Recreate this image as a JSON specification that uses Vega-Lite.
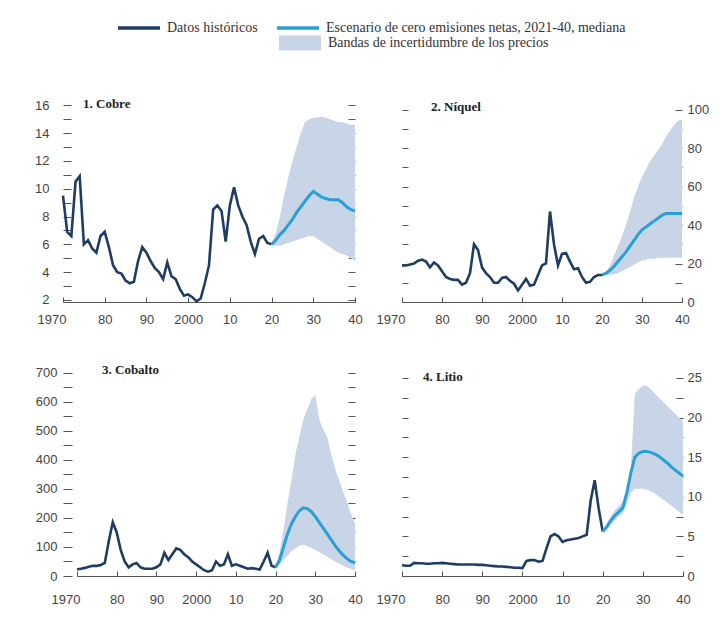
{
  "$schema": "https://vega.github.io/schema/vega-lite/v6.json",
  "padding": {"left": 34, "top": 5, "right": 5, "bottom": 5},
  "background": "white",
  "config": {
    "view": {"stroke": null},
    "axis": {"labelFont": "Liberation Sans", "labelFontSize": 13, "labelColor": "#444", "tickColor": "#555", "domainColor": "#555", "grid": false, "title": null, "labelOverlap": false},
    "title": {"font": "Liberation Serif", "fontSize": 13, "fontWeight": "bold", "color": "#222", "anchor": "start", "frame": "group"}
  },
  "datasets": {
    "cu_h": [
      {"t":1970,"v":9.5},{"t":1971,"v":6.9},{"t":1972,"v":6.6},{"t":1973,"v":10.5},{"t":1974,"v":10.9},{"t":1975,"v":6.0},{"t":1976,"v":6.3},{"t":1977,"v":5.7},{"t":1978,"v":5.4},{"t":1979,"v":6.6},
      {"t":1980,"v":6.9},{"t":1981,"v":5.8},{"t":1982,"v":4.5},{"t":1983,"v":4.0},{"t":1984,"v":3.9},{"t":1985,"v":3.4},{"t":1986,"v":3.2},{"t":1987,"v":3.3},{"t":1988,"v":4.8},{"t":1989,"v":5.8},
      {"t":1990,"v":5.4},{"t":1991,"v":4.8},{"t":1992,"v":4.3},{"t":1993,"v":4.0},{"t":1994,"v":3.5},{"t":1995,"v":4.7},{"t":1996,"v":3.7},{"t":1997,"v":3.5},{"t":1998,"v":2.8},{"t":1999,"v":2.3},
      {"t":2000,"v":2.4},{"t":2001,"v":2.2},{"t":2002,"v":1.9},{"t":2003,"v":2.1},{"t":2004,"v":3.2},{"t":2005,"v":4.5},{"t":2006,"v":8.5},{"t":2007,"v":8.8},{"t":2008,"v":8.4},{"t":2009,"v":6.2},
      {"t":2010,"v":8.8},{"t":2011,"v":10.1},{"t":2012,"v":8.8},{"t":2013,"v":8.0},{"t":2014,"v":7.4},{"t":2015,"v":6.2},{"t":2016,"v":5.3},{"t":2017,"v":6.4},{"t":2018,"v":6.6},{"t":2019,"v":6.1},{"t":2020,"v":6.0}
    ],
    "cu_m": [
      {"t":2020,"v":6.0},{"t":2021,"v":6.3},{"t":2022,"v":6.7},{"t":2023,"v":7.0},{"t":2024,"v":7.4},{"t":2025,"v":7.8},{"t":2026,"v":8.3},{"t":2027,"v":8.7},{"t":2028,"v":9.1},{"t":2029,"v":9.5},
      {"t":2030,"v":9.8},{"t":2031,"v":9.6},{"t":2032,"v":9.4},{"t":2033,"v":9.3},{"t":2034,"v":9.2},{"t":2035,"v":9.2},{"t":2036,"v":9.2},{"t":2037,"v":9.0},{"t":2038,"v":8.7},{"t":2039,"v":8.5},{"t":2040,"v":8.4}
    ],
    "cu_b": [
      {"t":2020,"lo":6.0,"hi":6.0},{"t":2021,"lo":5.9,"hi":6.8},{"t":2022,"lo":5.9,"hi":8.0},{"t":2023,"lo":6.0,"hi":9.5},{"t":2024,"lo":6.1,"hi":10.8},{"t":2025,"lo":6.2,"hi":12.0},{"t":2026,"lo":6.3,"hi":13.0},
      {"t":2027,"lo":6.4,"hi":14.0},{"t":2028,"lo":6.5,"hi":14.8},{"t":2029,"lo":6.6,"hi":15.0},{"t":2030,"lo":6.6,"hi":15.1},{"t":2031,"lo":6.4,"hi":15.1},{"t":2032,"lo":6.2,"hi":15.2},{"t":2033,"lo":6.0,"hi":15.1},
      {"t":2034,"lo":5.8,"hi":15.0},{"t":2035,"lo":5.6,"hi":14.9},{"t":2036,"lo":5.4,"hi":14.8},{"t":2037,"lo":5.3,"hi":14.8},{"t":2038,"lo":5.2,"hi":14.7},{"t":2039,"lo":5.0,"hi":14.6},{"t":2040,"lo":4.8,"hi":14.6}
    ],
    "ni_h": [
      {"t":1970,"v":19},{"t":1971,"v":19},{"t":1972,"v":19.5},{"t":1973,"v":20},{"t":1974,"v":21.5},{"t":1975,"v":22},{"t":1976,"v":21},{"t":1977,"v":18},{"t":1978,"v":20.5},{"t":1979,"v":19},
      {"t":1980,"v":16},{"t":1981,"v":13},{"t":1982,"v":12},{"t":1983,"v":11.5},{"t":1984,"v":11.5},{"t":1985,"v":9},{"t":1986,"v":10},{"t":1987,"v":15},{"t":1988,"v":30},{"t":1989,"v":27},
      {"t":1990,"v":18},{"t":1991,"v":15},{"t":1992,"v":13},{"t":1993,"v":10},{"t":1994,"v":10},{"t":1995,"v":12.5},{"t":1996,"v":13},{"t":1997,"v":11},{"t":1998,"v":9.5},{"t":1999,"v":6},
      {"t":2000,"v":9},{"t":2001,"v":12},{"t":2002,"v":8.5},{"t":2003,"v":9},{"t":2004,"v":14},{"t":2005,"v":19},{"t":2006,"v":20},{"t":2007,"v":47},{"t":2008,"v":30},{"t":2009,"v":19},
      {"t":2010,"v":25},{"t":2011,"v":25.5},{"t":2012,"v":21},{"t":2013,"v":17},{"t":2014,"v":17.5},{"t":2015,"v":13},{"t":2016,"v":10},{"t":2017,"v":10.5},{"t":2018,"v":13},{"t":2019,"v":14},{"t":2020,"v":14}
    ],
    "ni_m": [
      {"t":2020,"v":14},{"t":2021,"v":15},{"t":2022,"v":16.5},{"t":2023,"v":18.5},{"t":2024,"v":21},{"t":2025,"v":23.5},{"t":2026,"v":26},{"t":2027,"v":29},{"t":2028,"v":32},{"t":2029,"v":35},
      {"t":2030,"v":37.5},{"t":2031,"v":39},{"t":2032,"v":40.5},{"t":2033,"v":42},{"t":2034,"v":43.5},{"t":2035,"v":45},{"t":2036,"v":46},{"t":2037,"v":46},{"t":2038,"v":46},{"t":2039,"v":46},{"t":2040,"v":46}
    ],
    "ni_b": [
      {"t":2020,"lo":14,"hi":14},{"t":2021,"lo":14,"hi":15.5},{"t":2022,"lo":14,"hi":19},{"t":2023,"lo":14.5,"hi":24},{"t":2024,"lo":15,"hi":29},{"t":2025,"lo":16,"hi":34},{"t":2026,"lo":17,"hi":40},
      {"t":2027,"lo":18,"hi":47},{"t":2028,"lo":19.5,"hi":54},{"t":2029,"lo":20.5,"hi":60},{"t":2030,"lo":21.5,"hi":65},{"t":2031,"lo":22,"hi":69},{"t":2032,"lo":22.5,"hi":73},{"t":2033,"lo":22.5,"hi":76},
      {"t":2034,"lo":23,"hi":79},{"t":2035,"lo":23,"hi":82},{"t":2036,"lo":23,"hi":86},{"t":2037,"lo":23,"hi":89},{"t":2038,"lo":23,"hi":92},{"t":2039,"lo":23,"hi":94},{"t":2040,"lo":23,"hi":95}
    ],
    "co_h": [
      {"t":1970,"v":23},{"t":1971,"v":25},{"t":1972,"v":28},{"t":1973,"v":32},{"t":1974,"v":35},{"t":1975,"v":35},{"t":1976,"v":38},{"t":1977,"v":45},{"t":1978,"v":120},{"t":1979,"v":185},
      {"t":1980,"v":150},{"t":1981,"v":90},{"t":1982,"v":50},{"t":1983,"v":30},{"t":1984,"v":40},{"t":1985,"v":45},{"t":1986,"v":30},{"t":1987,"v":25},{"t":1988,"v":25},{"t":1989,"v":25},
      {"t":1990,"v":30},{"t":1991,"v":40},{"t":1992,"v":80},{"t":1993,"v":55},{"t":1994,"v":75},{"t":1995,"v":95},{"t":1996,"v":90},{"t":1997,"v":75},{"t":1998,"v":65},{"t":1999,"v":50},
      {"t":2000,"v":40},{"t":2001,"v":30},{"t":2002,"v":20},{"t":2003,"v":15},{"t":2004,"v":20},{"t":2005,"v":50},{"t":2006,"v":35},{"t":2007,"v":40},{"t":2008,"v":75},{"t":2009,"v":35},
      {"t":2010,"v":40},{"t":2011,"v":35},{"t":2012,"v":30},{"t":2013,"v":25},{"t":2014,"v":27},{"t":2015,"v":25},{"t":2016,"v":22},{"t":2017,"v":50},{"t":2018,"v":80},{"t":2019,"v":35},{"t":2020,"v":30}
    ],
    "co_m": [
      {"t":2020,"v":30},{"t":2021,"v":55},{"t":2022,"v":100},{"t":2023,"v":145},{"t":2024,"v":180},{"t":2025,"v":205},{"t":2026,"v":225},{"t":2027,"v":235},{"t":2028,"v":232},{"t":2029,"v":222},
      {"t":2030,"v":205},{"t":2031,"v":185},{"t":2032,"v":165},{"t":2033,"v":145},{"t":2034,"v":125},{"t":2035,"v":105},{"t":2036,"v":87},{"t":2037,"v":72},{"t":2038,"v":60},{"t":2039,"v":50},{"t":2040,"v":45}
    ],
    "co_b": [
      {"t":2020,"lo":30,"hi":30},{"t":2021,"lo":40,"hi":80},{"t":2022,"lo":55,"hi":160},{"t":2023,"lo":70,"hi":250},{"t":2024,"lo":85,"hi":330},{"t":2025,"lo":95,"hi":420},{"t":2026,"lo":105,"hi":480},
      {"t":2027,"lo":108,"hi":540},{"t":2028,"lo":102,"hi":575},{"t":2029,"lo":97,"hi":610},{"t":2030,"lo":90,"hi":625},{"t":2031,"lo":82,"hi":540},{"t":2032,"lo":75,"hi":505},{"t":2033,"lo":67,"hi":480},
      {"t":2034,"lo":58,"hi":420},{"t":2035,"lo":50,"hi":370},{"t":2036,"lo":42,"hi":330},{"t":2037,"lo":35,"hi":290},{"t":2038,"lo":29,"hi":255},{"t":2039,"lo":24,"hi":215},{"t":2040,"lo":20,"hi":180}
    ],
    "li_h": [
      {"t":1970,"v":1.35},{"t":1971,"v":1.3},{"t":1972,"v":1.3},{"t":1973,"v":1.65},{"t":1974,"v":1.6},{"t":1975,"v":1.6},{"t":1976,"v":1.55},{"t":1977,"v":1.55},{"t":1978,"v":1.6},{"t":1979,"v":1.6},
      {"t":1980,"v":1.65},{"t":1981,"v":1.6},{"t":1982,"v":1.55},{"t":1983,"v":1.5},{"t":1984,"v":1.45},{"t":1985,"v":1.45},{"t":1986,"v":1.45},{"t":1987,"v":1.45},{"t":1988,"v":1.45},{"t":1989,"v":1.4},
      {"t":1990,"v":1.4},{"t":1991,"v":1.35},{"t":1992,"v":1.3},{"t":1993,"v":1.25},{"t":1994,"v":1.2},{"t":1995,"v":1.2},{"t":1996,"v":1.15},{"t":1997,"v":1.1},{"t":1998,"v":1.05},{"t":1999,"v":1.05},
      {"t":2000,"v":1.0},{"t":2001,"v":1.9},{"t":2002,"v":2.0},{"t":2003,"v":2.0},{"t":2004,"v":1.8},{"t":2005,"v":1.9},{"t":2006,"v":3.5},{"t":2007,"v":5.0},{"t":2008,"v":5.3},{"t":2009,"v":5.0},
      {"t":2010,"v":4.3},{"t":2011,"v":4.5},{"t":2012,"v":4.6},{"t":2013,"v":4.7},{"t":2014,"v":4.8},{"t":2015,"v":5.0},{"t":2016,"v":5.2},{"t":2017,"v":9.5},{"t":2018,"v":12.1},{"t":2019,"v":8.5},{"t":2020,"v":5.6}
    ],
    "li_m": [
      {"t":2020,"v":5.6},{"t":2021,"v":6.2},{"t":2022,"v":7.0},{"t":2023,"v":7.6},{"t":2024,"v":8.1},{"t":2025,"v":8.6},{"t":2026,"v":10.5},{"t":2027,"v":13.0},{"t":2028,"v":15.0},{"t":2029,"v":15.5},
      {"t":2030,"v":15.7},{"t":2031,"v":15.7},{"t":2032,"v":15.6},{"t":2033,"v":15.4},{"t":2034,"v":15.1},{"t":2035,"v":14.7},{"t":2036,"v":14.3},{"t":2037,"v":13.8},{"t":2038,"v":13.4},{"t":2039,"v":13.0},{"t":2040,"v":12.6}
    ],
    "li_b": [
      {"t":2020,"lo":5.6,"hi":5.6},{"t":2021,"lo":5.8,"hi":6.6},{"t":2022,"lo":6.4,"hi":7.6},{"t":2023,"lo":7.0,"hi":8.3},{"t":2024,"lo":7.5,"hi":8.8},{"t":2025,"lo":7.9,"hi":9.5},{"t":2026,"lo":9.0,"hi":11.0},
      {"t":2027,"lo":10.5,"hi":13.5},{"t":2028,"lo":11.0,"hi":23.0},{"t":2029,"lo":11.0,"hi":23.6},{"t":2030,"lo":11.0,"hi":24.0},{"t":2031,"lo":10.9,"hi":24.0},{"t":2032,"lo":10.7,"hi":23.6},{"t":2033,"lo":10.4,"hi":23.0},
      {"t":2034,"lo":10.0,"hi":22.5},{"t":2035,"lo":9.7,"hi":22.0},{"t":2036,"lo":9.3,"hi":21.5},{"t":2037,"lo":8.9,"hi":21.0},{"t":2038,"lo":8.5,"hi":20.5},{"t":2039,"lo":8.1,"hi":20.0},{"t":2040,"lo":7.7,"hi":19.5}
    ]
  },
  "columns": 2,
  "spacing": {"row": 37, "column": 13},
  "concat": [
    {
      "width": 292, "height": 205,
      "title": {"text": "1. Cobre", "offset": -14, "dx": 20},
      "encoding": {"x": {"field": "t", "type": "quantitative", "scale": {"domain": [1970, 2040], "nice": false, "zero": false},
        "axis": {"values": [1970,1980,1990,2000,2010,2020,2030,2040], "format": "d", "labelExpr": "datum.value == 1970 || datum.value == 2000 ? datum.label : substring(datum.label, 2)", "labelAlign": {"expr": "datum.value == 1970 ? 'right' : 'center'"}, "labelOffset": {"expr": "datum.value == 1970 ? 3 : 0"}, "tickSize": -5, "labelPadding": 16, "labelFlush": false}}},
      "layer": [
        {"data": {"name": "cu_b"}, "mark": {"type": "area"},
         "encoding": {"y": {"field": "hi", "type": "quantitative", "scale": {"domain": [1.85, 16.6], "nice": false, "zero": false},
           "axis": {"orient": "left", "values": [2,3,4,5,6,7,8,9,10,11,12,13,14,15,16], "labelExpr": "datum.value % 2 == 0 ? datum.label : ''", "domain": false, "tickSize": -8, "labelPadding": 22}},
           "y2": {"field": "lo"},
           "fill": {"datum": "Bandas de incertidumbre de los precios", "type": "nominal", "scale": {"domain": ["Bandas de incertidumbre de los precios"], "range": ["#c8d5e6"]},
             "legend": {"orient": "none", "legendX": 216, "legendY": -75, "title": null, "symbolType": "M-1,-0.36H1V0.36H-1Z", "symbolSize": 1764, "symbolStrokeWidth": 0, "symbolOpacity": 1, "labelFont": "Liberation Serif", "labelFontSize": 14, "labelColor": "#333", "labelOffset": 7, "labelLimit": 450}}}},
        {"data": {"name": "cu_h"}, "mark": {"type": "line", "strokeWidth": 2.6},
         "encoding": {"y": {"field": "v", "type": "quantitative", "scale": {"domain": [1.85, 16.6], "nice": false, "zero": false},
           "axis": {"orient": "right", "values": [2,3,4,5,6,7,8,9,10,11,12,13,14,15,16], "labels": false, "domain": false, "tickSize": -7}},
           "stroke": {"datum": "Datos históricos", "type": "nominal", "scale": {"domain": ["Datos históricos", "Escenario de cero emisiones netas, 2021-40, mediana"], "range": ["#1f3d63", "#2a9fd6"]},
             "legend": {"orient": "none", "legendX": 53, "legendY": -92, "direction": "horizontal", "title": null, "symbolType": "stroke", "symbolSize": 1764, "symbolStrokeWidth": 3.5, "labelFont": "Liberation Serif", "labelFontSize": 14, "labelColor": "#333", "labelOffset": 5, "columnPadding": 12, "labelLimit": 450}}}},
        {"data": {"name": "cu_m"}, "mark": {"type": "line", "strokeWidth": 3},
         "encoding": {"y": {"field": "v", "type": "quantitative", "scale": {"domain": [1.85, 16.6], "nice": false, "zero": false}, "axis": null},
           "stroke": {"datum": "Escenario de cero emisiones netas, 2021-40, mediana", "type": "nominal"}}}
      ],
      "resolve": {"axis": {"y": "independent"}}
    },
    {
      "width": 280, "height": 205,
      "title": {"text": "2. Níquel", "offset": -17, "dx": 29},
      "encoding": {"x": {"field": "t", "type": "quantitative", "scale": {"domain": [1970, 2040], "nice": false, "zero": false},
        "axis": {"values": [1970,1980,1990,2000,2010,2020,2030,2040], "format": "d", "labelExpr": "datum.value == 1970 || datum.value == 2000 ? datum.label : substring(datum.label, 2)", "labelAlign": {"expr": "datum.value == 1970 ? 'right' : 'center'"}, "labelOffset": {"expr": "datum.value == 1970 ? 3 : 0"}, "tickSize": -5, "labelPadding": 16, "labelFlush": false}}},
      "layer": [
        {"data": {"name": "ni_b"}, "mark": {"type": "area"},
         "encoding": {"y": {"field": "hi", "type": "quantitative", "scale": {"domain": [0, 106.5], "nice": false, "zero": false},
           "axis": {"orient": "right", "values": [0,10,20,30,40,50,60,70,80,90,100], "labelExpr": "datum.value % 20 == 0 ? datum.label : ''", "domain": false, "tickSize": -7, "labelPadding": 12}},
           "y2": {"field": "lo"},
           "fill": {"datum": "Bandas de incertidumbre de los precios", "type": "nominal"}}},
        {"data": {"name": "ni_h"}, "mark": {"type": "line", "strokeWidth": 2.6},
         "encoding": {"y": {"field": "v", "type": "quantitative", "scale": {"domain": [0, 106.5], "nice": false, "zero": false},
           "axis": {"orient": "left", "values": [0,10,20,30,40,50,60,70,80,90,100], "labels": false, "domain": false, "tickSize": -6}},
           "stroke": {"datum": "Datos históricos", "type": "nominal"}}},
        {"data": {"name": "ni_m"}, "mark": {"type": "line", "strokeWidth": 3},
         "encoding": {"y": {"field": "v", "type": "quantitative", "scale": {"domain": [0, 106.5], "nice": false, "zero": false}, "axis": null},
           "stroke": {"datum": "Escenario de cero emisiones netas, 2021-40, mediana", "type": "nominal"}}}
      ],
      "resolve": {"axis": {"y": "independent"}}
    },
    {
      "width": 292, "height": 206,
      "title": {"text": "3. Cobalto", "offset": -10, "dx": 39},
      "encoding": {"x": {"field": "t", "type": "quantitative", "scale": {"domain": [1970, 2040], "range": [14, 292], "nice": false, "zero": false},
        "axis": {"values": [1970,1980,1990,2000,2010,2020,2030,2040], "format": "d", "labelExpr": "datum.value == 1970 || datum.value == 2000 ? datum.label : substring(datum.label, 2)", "labelAlign": {"expr": "datum.value == 1970 ? 'right' : 'center'"}, "labelOffset": {"expr": "datum.value == 1970 ? 3 : 0"}, "tickSize": -5, "labelPadding": 22, "labelFlush": false}}},
      "layer": [
        {"data": {"name": "co_b"}, "mark": {"type": "area"},
         "encoding": {"y": {"field": "hi", "type": "quantitative", "scale": {"domain": [0, 710], "nice": false, "zero": false},
           "axis": {"orient": "left", "values": [0,50,100,150,200,250,300,350,400,450,500,550,600,650,700], "labelExpr": "datum.value % 100 == 0 ? datum.label : ''", "domain": false, "tickSize": -9, "labelPadding": 15}},
           "y2": {"field": "lo"},
           "fill": {"datum": "Bandas de incertidumbre de los precios", "type": "nominal"}}},
        {"data": {"name": "co_h"}, "mark": {"type": "line", "strokeWidth": 2.6},
         "encoding": {"y": {"field": "v", "type": "quantitative", "scale": {"domain": [0, 710], "nice": false, "zero": false},
           "axis": {"orient": "right", "values": [0,50,100,150,200,250,300,350,400,450,500,550,600,650,700], "labels": false, "domain": false, "tickSize": -7}},
           "stroke": {"datum": "Datos históricos", "type": "nominal"}}},
        {"data": {"name": "co_m"}, "mark": {"type": "line", "strokeWidth": 3},
         "encoding": {"y": {"field": "v", "type": "quantitative", "scale": {"domain": [0, 710], "nice": false, "zero": false}, "axis": null},
           "stroke": {"datum": "Escenario de cero emisiones netas, 2021-40, mediana", "type": "nominal"}}}
      ],
      "resolve": {"axis": {"y": "independent"}}
    },
    {
      "width": 281, "height": 206,
      "title": {"text": "4. Litio", "offset": -14, "dx": 21},
      "encoding": {"x": {"field": "t", "type": "quantitative", "scale": {"domain": [1970, 2040], "nice": false, "zero": false},
        "axis": {"values": [1970,1980,1990,2000,2010,2020,2030,2040], "format": "d", "labelExpr": "datum.value == 1970 || datum.value == 2000 ? datum.label : substring(datum.label, 2)", "labelAlign": {"expr": "datum.value == 1970 ? 'right' : 'center'"}, "labelOffset": {"expr": "datum.value == 1970 ? 3 : 0"}, "tickSize": -5, "labelPadding": 22, "labelFlush": false}}},
      "layer": [
        {"data": {"name": "li_b"}, "mark": {"type": "area"},
         "encoding": {"y": {"field": "hi", "type": "quantitative", "scale": {"domain": [0, 26], "nice": false, "zero": false},
           "axis": {"orient": "right", "values": [0,2.5,5,7.5,10,12.5,15,17.5,20,22.5,25], "labelExpr": "datum.value % 5 == 0 ? datum.label : ''", "domain": false, "tickSize": -7, "labelPadding": 11}},
           "y2": {"field": "lo"},
           "fill": {"datum": "Bandas de incertidumbre de los precios", "type": "nominal"}}},
        {"data": {"name": "li_h"}, "mark": {"type": "line", "strokeWidth": 2.6},
         "encoding": {"y": {"field": "v", "type": "quantitative", "scale": {"domain": [0, 26], "nice": false, "zero": false},
           "axis": {"orient": "left", "values": [0,2.5,5,7.5,10,12.5,15,17.5,20,22.5,25], "labels": false, "domain": false, "tickSize": -6}},
           "stroke": {"datum": "Datos históricos", "type": "nominal"}}},
        {"data": {"name": "li_m"}, "mark": {"type": "line", "strokeWidth": 3},
         "encoding": {"y": {"field": "v", "type": "quantitative", "scale": {"domain": [0, 26], "nice": false, "zero": false}, "axis": null},
           "stroke": {"datum": "Escenario de cero emisiones netas, 2021-40, mediana", "type": "nominal"}}}
      ],
      "resolve": {"axis": {"y": "independent"}}
    }
  ]
}
